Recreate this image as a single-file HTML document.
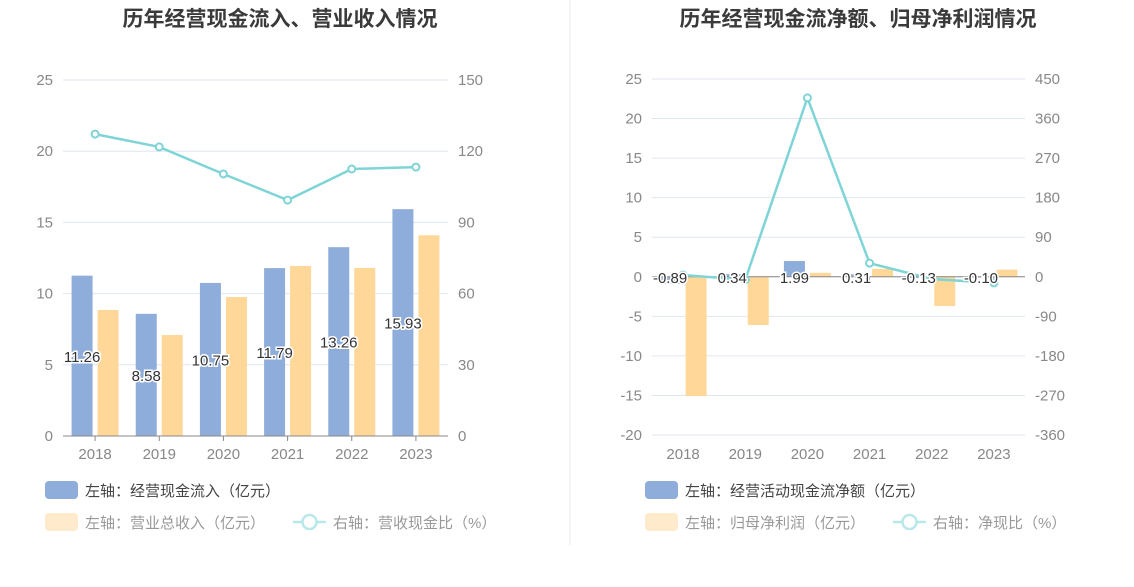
<!DOCTYPE html>
<html><head><meta charset="utf-8">
<style>
body{margin:0;background:#fff;width:1134px;height:582px;overflow:hidden;font-family:"Liberation Sans","Noto Sans CJK SC",sans-serif;}
svg text{font-family:"Liberation Sans","Noto Sans CJK SC",sans-serif;}
</style></head>
<body>
<svg id="c" width="1134" height="582">
<line x1="570" y1="0" x2="570" y2="545" stroke="#e8e8e8"/>
<text x="280" y="26" text-anchor="middle" font-size="21" font-weight="bold" fill="#3a3a3a">历年经营现金流入、营业收入情况</text>
<text x="858" y="26" text-anchor="middle" font-size="21" font-weight="bold" fill="#3a3a3a">历年经营现金流净额、归母净利润情况</text>
</svg>
<script>
const years=['2018','2019','2020','2021','2022','2023'];
const inflow=[11.26,8.58,10.75,11.79,13.26,15.93];
const revenue=[8.85,7.09,9.76,11.94,11.8,14.1];
const revRatio=[127.2,121.8,110.4,99.4,112.5,113.3];
const leftTicksL=[0,5,10,15,20,25];
const leftTicksR=[0,30,60,90,120,150];
const netCash=[-0.89,0.34,1.99,0.31,-0.13,-0.10];
const netProfit=[-15.07,-6.1,0.5,1.0,-3.7,0.9];
const netRatio=[4,-7,407,31,-5,-14];
const rightTicksL=[-20,-15,-10,-5,0,5,10,15,20,25];
const rightTicksR=[-360,-270,-180,-90,0,90,180,270,360,450];

const svg=document.getElementById('c');
const NS='http://www.w3.org/2000/svg';
function mk(tag,attrs,txt){const e=document.createElementNS(NS,tag);for(const k in attrs)e.setAttribute(k,attrs[k]);if(txt!==undefined)e.textContent=txt;svg.appendChild(e);return e;}

function chart(o){
  const yL=v=>o.y0+(o.lmax-v)/(o.lmax-o.lmin)*(o.y1-o.y0);
  const yR=v=>o.y0+(o.rmax-v)/(o.rmax-o.rmin)*(o.y1-o.y0);
  const cw=(o.x1-o.x0)/years.length;
  const xc=i=>o.x0+cw*(i+0.5);
  o.ticksL.forEach((t,i)=>{
    const g=mk('line',{x1:o.x0,x2:o.x1,y1:yL(t),y2:yL(t),stroke:'#e0e6f1'});
    
    
    const a=mk('text',{x:o.x0-10,y:yL(t)+5,'text-anchor':'end','font-size':15,fill:'#888'},t);
    
    
    const b=mk('text',{x:o.x1+10,y:yL(t)+5,'font-size':15,fill:'#888'},o.ticksR[i]);
    
    
  });
  const bw=21;
  years.forEach((yr,i)=>{
    const x=xc(i);
    const v1=o.s1[i],v2=o.s2[i];
    const b1=mk('rect',{x:x-bw-2.5,y:Math.min(yL(v1),yL(0)),width:bw,height:Math.abs(yL(v1)-yL(0)),fill:'#8eadda'});
    
    
    const b2=mk('rect',{x:x+2.5,y:Math.min(yL(v2),yL(0)),width:bw,height:Math.abs(yL(v2)-yL(0)),fill:'#ffd899'});
    
    
    const t=mk('text',{x:xc(i),y:o.tickY,'text-anchor':'middle','font-size':15,fill:'#888'},yr);
    
    
  });
  const ax=mk('line',{x1:o.x0,x2:o.x1,y1:yL(0),y2:yL(0),stroke:'#888'});
  
  
  years.forEach((yr,i)=>{
    const tk=mk('line',{x1:xc(i),x2:xc(i),y1:yL(0),y2:yL(0)+5,stroke:'#888'});
    
    
  });
  const pl=mk('polyline',{points:o.line.map((v,i)=>xc(i)+','+yR(v)).join(' '),fill:'none',stroke:'#7fd4d6','stroke-width':2.5});
  
  
  o.line.forEach((v,i)=>{
    const c=mk('circle',{cx:xc(i),cy:yR(v),r:3.5,fill:'#fff',stroke:'#7fd4d6','stroke-width':2});
    
    
  });
  o.s1.forEach((v,i)=>{
    const ly=o.labelMid?(yL(v)+yL(0))/2+6:yL(0)+6;
    const t=mk('text',{x:xc(i)-bw/2-2.5,y:ly,'text-anchor':'middle','font-size':15,fill:'#333',stroke:'#fff','stroke-width':3,'paint-order':'stroke'},v.toFixed(2));
    
    
  });
  const L=o.lx;
  const s1=mk('rect',{x:L,y:481,width:33,height:18,rx:4,fill:'#8eadda'});
  
  const t1=mk('text',{x:L+40,y:496,'font-size':15,fill:'#444'},o.leg1);
  
  const s2=mk('rect',{x:L,y:513,width:33,height:18,rx:4,fill:'#ffeacc'});
  
  const t2=mk('text',{x:L+40,y:528,'font-size':15,fill:'#999'},o.leg2);
  
  const lx=o.l3x;
  const ll=mk('line',{x1:lx,x2:lx+33,y1:522,y2:522,stroke:'#b8e8ea','stroke-width':2.5});
  
  const lc=mk('circle',{cx:lx+16.5,cy:522,r:7,fill:'#fff',stroke:'#b8e8ea','stroke-width':2.5});
  
  const t3=mk('text',{x:lx+40,y:528,'font-size':15,fill:'#999'},o.leg3);
  
}
chart({x0:63,x1:448,y0:80,y1:436,lmin:0,lmax:25,rmin:0,rmax:150,ticksL:leftTicksL,ticksR:leftTicksR,
  s1:inflow,s2:revenue,line:revRatio,n1:'inflow',n2:'revenue',labelMid:true,tickY:459,
  lx:45,l3x:293,leg1:'左轴：经营现金流入（亿元）',leg2:'左轴：营业总收入（亿元）',leg3:'右轴：营收现金比（%）'});
chart({x0:652,x1:1025,y0:79,y1:435,lmin:-20,lmax:25,rmin:-360,rmax:450,ticksL:rightTicksL,ticksR:rightTicksR,
  s1:netCash,s2:netProfit,line:netRatio,n1:'net-cash',n2:'net-profit',labelMid:false,tickY:459,
  lx:645,l3x:893,leg1:'左轴：经营活动现金流净额（亿元）',leg2:'左轴：归母净利润（亿元）',leg3:'右轴：净现比（%）'});
</script>
</body></html>
